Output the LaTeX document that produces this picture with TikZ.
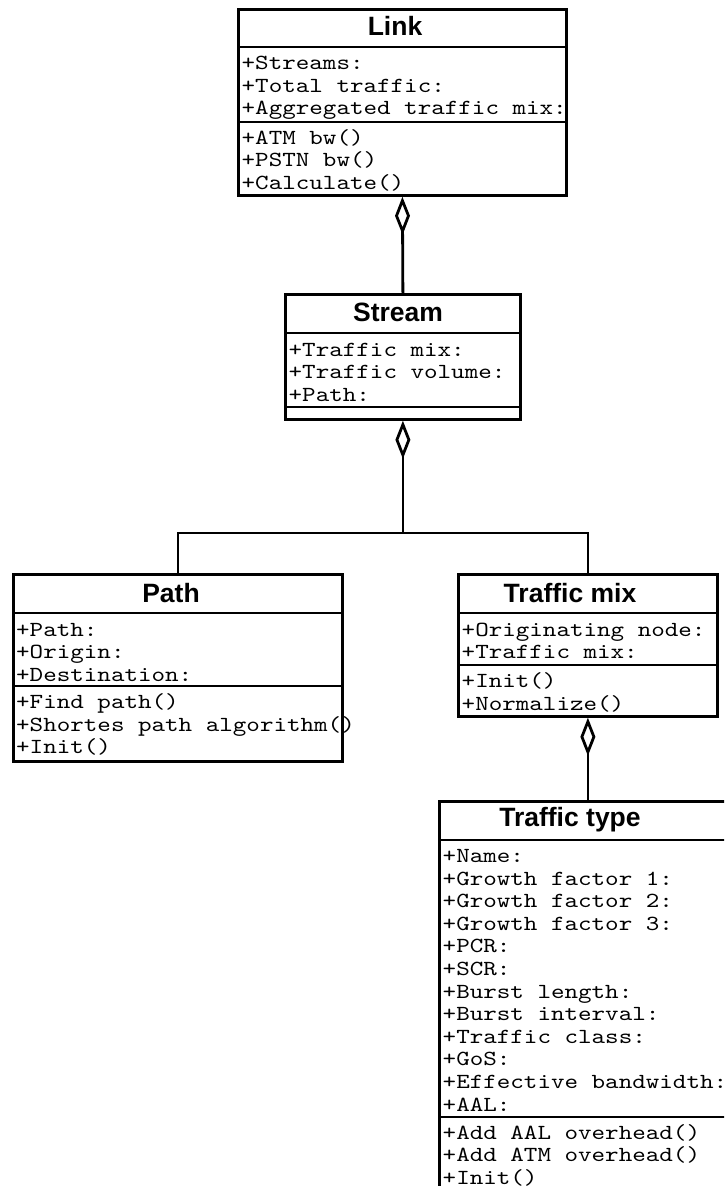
\documentclass[tikz,border=0pt]{standalone}
\usepackage{fontspec}
\setmainfont{Liberation Sans}
\newfontfamily\monof[FakeStretch=1.2]{lmmono10-regular.otf}
\usetikzlibrary{arrows.meta}
\tikzset{
  x=1pt, y=-1pt,
  classbox/.style={draw, line width=2.8pt, inner sep=0pt, anchor=north west},
  divider/.style={line width=2.8pt},
  member/.style={anchor=base west, inner sep=0pt, font=\monof\fontsize{21.5pt}{23pt}\selectfont},
  classtitle/.style={anchor=base, inner sep=0pt, font=\fontsize{26.5pt}{28pt}\selectfont\bfseries},
  conn/.style={line width=2.8pt},
  agg/.style={conn, {Diamond[open, length=38pt, width=15pt]}-},
}
\newcommand\memberlines[4]{%
  \foreach \txt [count=\i] in {#4}
    \node[member] (#1-\i) at (#2,{#3+(\i-1)*22.6}) {\txt};%
}
\begin{document}
\begin{tikzpicture}
\useasboundingbox (0,0) rectangle (724,1186);
\clip (0,0) rectangle (724,1186);
\fill[white] (0,0) rectangle (724,1186);

% class boxes
\node[classbox, minimum width=328pt, minimum height=186pt] (link) at (237,8) {};
\node[classbox, minimum width=235pt, minimum height=125pt] (stream) at (284,293) {};
\node[classbox, minimum width=329pt, minimum height=187pt] (path) at (12,573) {};
\node[classbox, minimum width=259pt, minimum height=142pt] (tmix) at (457,573) {};
\node[classbox, minimum width=302pt, minimum height=400pt] (ttype) at (438,800) {};

% compartment dividers
\draw[divider] (link.west |- 0,47) -- (link.east |- 0,47);
\draw[divider] (link.west |- 0,122) -- (link.east |- 0,122);
\draw[divider] (stream.west |- 0,333) -- (stream.east |- 0,333);
\draw[divider] (stream.west |- 0,407) -- (stream.east |- 0,407);
\draw[divider] (path.west |- 0,613) -- (path.east |- 0,613);
\draw[divider] (path.west |- 0,686) -- (path.east |- 0,686);
\draw[divider] (tmix.west |- 0,613) -- (tmix.east |- 0,613);
\draw[divider] (tmix.west |- 0,665) -- (tmix.east |- 0,665);
\draw[divider] (ttype.west |- 0,840) -- (ttype.east |- 0,840);
\draw[divider] (ttype.west |- 0,1117) -- (ttype.east |- 0,1117);

% titles
\node[classtitle] (link-title) at (395,35) {Link};
\node[classtitle] (stream-title) at (398,321) {Stream};
\node[classtitle] (path-title) at (171,602) {Path};
\node[classtitle] (tmix-title) at (570,602) {Traffic mix};
\node[classtitle] (ttype-title) at (570,826) {Traffic type};

% members
\memberlines{linka}{241.5}{69.5}{+Streams:,+Total traffic:,+Aggregated traffic mix:}
\memberlines{linko}{241.5}{144}{+ATM bw(),+PSTN bw(),+Calculate()}
\memberlines{streama}{288.5}{356}{+Traffic mix:,+Traffic volume:,+Path:}
\memberlines{patha}{16}{636}{+Path:,+Origin:,+Destination:}
\memberlines{patho}{16}{708.5}{+Find path(),+Shortes path algorithm(),+Init()}
\memberlines{tmixa}{461.5}{636}{+Originating node:,+Traffic mix:}
\memberlines{tmixo}{461.5}{687.5}{+Init(),+Normalize()}
\memberlines{ttypea}{442.5}{862.5}{+Name:,+Growth factor 1:,+Growth factor 2:,+Growth factor 3:,+PCR:,+SCR:,+Burst length:,+Burst interval:,+Traffic class:,+GoS:,+Effective bandwidth:,+AAL:}
\memberlines{ttypeo}{442.5}{1139}{+Add AAL overhead(),+Add ATM overhead(),+Init()}

% connectors
\draw[agg] (link.south) -- (stream.north);
\coordinate (junction) at (stream.south |- 0,533);
\draw[agg] (stream.south) -- (junction);
\draw[conn] (junction) -| (path.north);
\draw[conn] (junction) -| (tmix.north);
\draw[agg] (tmix.south) -- (tmix.south |- ttype.north);
\end{tikzpicture}
\end{document}
